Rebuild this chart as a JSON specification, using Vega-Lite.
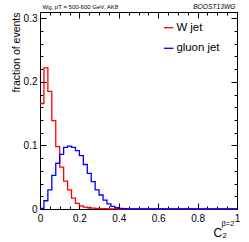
{
  "$schema": "https://vega.github.io/schema/vega-lite/v6.json",
  "width": 197,
  "height": 197,
  "autosize": {"type": "none"},
  "padding": {"left": 40, "top": 12, "right": 12, "bottom": 33},
  "background": "white",
  "config": {
    "view": {"stroke": null},
    "font": "Liberation Sans",
    "axis": {
      "grid": false, "domainColor": "black", "domainWidth": 1, "tickColor": "black", "tickWidth": 1,
      "labelColor": "black", "titleColor": "black", "labelFont": "Liberation Sans", "titleFont": "Liberation Sans",
      "titleFontWeight": "normal", "labelFlush": false, "labelOverlap": false, "labelBound": false
    }
  },
  "datasets": {
    "h": [
      {"jet": "W jet", "x": 0, "f": 0.166}, {"jet": "W jet", "x": 0.02, "f": 0.222}, {"jet": "W jet", "x": 0.04, "f": 0.185},
      {"jet": "W jet", "x": 0.06, "f": 0.139}, {"jet": "W jet", "x": 0.08, "f": 0.098}, {"jet": "W jet", "x": 0.1, "f": 0.066},
      {"jet": "W jet", "x": 0.12, "f": 0.044}, {"jet": "W jet", "x": 0.14, "f": 0.03}, {"jet": "W jet", "x": 0.16, "f": 0.017},
      {"jet": "W jet", "x": 0.18, "f": 0.009}, {"jet": "W jet", "x": 0.2, "f": 0.005}, {"jet": "W jet", "x": 0.22, "f": 0.003},
      {"jet": "W jet", "x": 0.24, "f": 0.002}, {"jet": "W jet", "x": 0.26, "f": 0.0015}, {"jet": "W jet", "x": 0.28, "f": 0.001},
      {"jet": "W jet", "x": 0.3, "f": 0.0007}, {"jet": "W jet", "x": 0.32, "f": 0.0005}, {"jet": "W jet", "x": 0.34, "f": 0.0003},
      {"jet": "W jet", "x": 0.36, "f": 0.0002}, {"jet": "W jet", "x": 0.38, "f": 0.0001}, {"jet": "W jet", "x": 0.4, "f": 0},
      {"jet": "W jet", "x": 0.42, "f": 0}, {"jet": "W jet", "x": 0.44, "f": 0}, {"jet": "W jet", "x": 0.46, "f": 0},
      {"jet": "W jet", "x": 0.48, "f": 0}, {"jet": "W jet", "x": 0.5, "f": 0}, {"jet": "W jet", "x": 0.52, "f": 0},
      {"jet": "W jet", "x": 0.54, "f": 0}, {"jet": "W jet", "x": 0.56, "f": 0}, {"jet": "W jet", "x": 0.58, "f": 0},
      {"jet": "W jet", "x": 0.6, "f": 0}, {"jet": "W jet", "x": 0.62, "f": 0}, {"jet": "W jet", "x": 0.64, "f": 0},
      {"jet": "W jet", "x": 0.66, "f": 0}, {"jet": "W jet", "x": 0.68, "f": 0}, {"jet": "W jet", "x": 0.7, "f": 0},
      {"jet": "W jet", "x": 0.72, "f": 0}, {"jet": "W jet", "x": 0.74, "f": 0}, {"jet": "W jet", "x": 0.76, "f": 0},
      {"jet": "W jet", "x": 0.78, "f": 0}, {"jet": "W jet", "x": 0.8, "f": 0}, {"jet": "W jet", "x": 0.82, "f": 0},
      {"jet": "W jet", "x": 0.84, "f": 0}, {"jet": "W jet", "x": 0.86, "f": 0}, {"jet": "W jet", "x": 0.88, "f": 0},
      {"jet": "W jet", "x": 0.9, "f": 0}, {"jet": "W jet", "x": 0.92, "f": 0}, {"jet": "W jet", "x": 0.94, "f": 0},
      {"jet": "W jet", "x": 0.96, "f": 0}, {"jet": "W jet", "x": 0.98, "f": 0}, {"jet": "W jet", "x": 1, "f": 0},
      {"jet": "gluon jet", "x": 0, "f": 0.001}, {"jet": "gluon jet", "x": 0.02, "f": 0.013}, {"jet": "gluon jet", "x": 0.04, "f": 0.03},
      {"jet": "gluon jet", "x": 0.06, "f": 0.053}, {"jet": "gluon jet", "x": 0.08, "f": 0.072}, {"jet": "gluon jet", "x": 0.1, "f": 0.086},
      {"jet": "gluon jet", "x": 0.12, "f": 0.097}, {"jet": "gluon jet", "x": 0.14, "f": 0.099}, {"jet": "gluon jet", "x": 0.16, "f": 0.097},
      {"jet": "gluon jet", "x": 0.18, "f": 0.092}, {"jet": "gluon jet", "x": 0.2, "f": 0.084}, {"jet": "gluon jet", "x": 0.22, "f": 0.07},
      {"jet": "gluon jet", "x": 0.24, "f": 0.056}, {"jet": "gluon jet", "x": 0.26, "f": 0.043}, {"jet": "gluon jet", "x": 0.28, "f": 0.03},
      {"jet": "gluon jet", "x": 0.3, "f": 0.022}, {"jet": "gluon jet", "x": 0.32, "f": 0.014}, {"jet": "gluon jet", "x": 0.34, "f": 0.008},
      {"jet": "gluon jet", "x": 0.36, "f": 0.004}, {"jet": "gluon jet", "x": 0.38, "f": 0.002}, {"jet": "gluon jet", "x": 0.4, "f": 0.001},
      {"jet": "gluon jet", "x": 0.42, "f": 0.0005}, {"jet": "gluon jet", "x": 0.44, "f": 0}, {"jet": "gluon jet", "x": 0.46, "f": 0},
      {"jet": "gluon jet", "x": 0.48, "f": 0}, {"jet": "gluon jet", "x": 0.5, "f": 0}, {"jet": "gluon jet", "x": 0.52, "f": 0},
      {"jet": "gluon jet", "x": 0.54, "f": 0}, {"jet": "gluon jet", "x": 0.56, "f": 0}, {"jet": "gluon jet", "x": 0.58, "f": 0},
      {"jet": "gluon jet", "x": 0.6, "f": 0}, {"jet": "gluon jet", "x": 0.62, "f": 0}, {"jet": "gluon jet", "x": 0.64, "f": 0},
      {"jet": "gluon jet", "x": 0.66, "f": 0}, {"jet": "gluon jet", "x": 0.68, "f": 0}, {"jet": "gluon jet", "x": 0.7, "f": 0},
      {"jet": "gluon jet", "x": 0.72, "f": 0}, {"jet": "gluon jet", "x": 0.74, "f": 0}, {"jet": "gluon jet", "x": 0.76, "f": 0},
      {"jet": "gluon jet", "x": 0.78, "f": 0}, {"jet": "gluon jet", "x": 0.8, "f": 0}, {"jet": "gluon jet", "x": 0.82, "f": 0},
      {"jet": "gluon jet", "x": 0.84, "f": 0}, {"jet": "gluon jet", "x": 0.86, "f": 0}, {"jet": "gluon jet", "x": 0.88, "f": 0},
      {"jet": "gluon jet", "x": 0.9, "f": 0}, {"jet": "gluon jet", "x": 0.92, "f": 0}, {"jet": "gluon jet", "x": 0.94, "f": 0},
      {"jet": "gluon jet", "x": 0.96, "f": 0}, {"jet": "gluon jet", "x": 0.98, "f": 0}, {"jet": "gluon jet", "x": 1, "f": 0}
    ]
  },
  "data": {"name": "h"},
  "layer": [
    {
      "transform": [{"filter": "datum.jet == 'W jet'"}],
      "mark": {"type": "line", "interpolate": "step-after", "strokeWidth": 1.3},
      "encoding": {
        "x": {
          "field": "x", "type": "quantitative",
          "scale": {"domain": [0, 1], "nice": false, "zero": false},
          "axis": {
            "orient": "bottom",
            "values": [0, 0.05, 0.1, 0.15, 0.2, 0.25, 0.3, 0.35, 0.4, 0.45, 0.5, 0.55, 0.6, 0.65, 0.7, 0.75, 0.8, 0.85, 0.9, 0.95, 1],
            "tickSize": {"condition": {"test": "abs(datum.value*5 - round(datum.value*5)) < 1e-6", "value": -6}, "value": -3},
            "labelExpr": "abs(datum.value*5 - round(datum.value*5)) < 1e-6 ? format(datum.value, '~g') : ''",
            "labelFontSize": 10, "labelPadding": 10,
            "title": "C₂", "titleFontSize": 12, "titleX": 173, "titleY": 27.5,
            "titleAlign": "left", "titleBaseline": "alphabetic", "titleAngle": 0
          }
        },
        "y": {
          "field": "f", "type": "quantitative",
          "scale": {"domain": [0, 0.31], "nice": false, "zero": false},
          "axis": {
            "orient": "left",
            "values": [0, 0.02, 0.04, 0.06, 0.08, 0.1, 0.12, 0.14, 0.16, 0.18, 0.2, 0.22, 0.24, 0.26, 0.28, 0.3],
            "tickSize": {"condition": {"test": "abs(datum.value*10 - round(datum.value*10)) < 1e-6", "value": -6}, "value": -3},
            "labelExpr": "abs(datum.value*10 - round(datum.value*10)) < 1e-6 ? format(datum.value, '~g') : ''",
            "labelFontSize": 10, "labelPadding": 9,
            "title": "fraction of events", "titleFontSize": 10.5, "titleX": -21, "titleY": 0,
            "titleAngle": 270, "titleAlign": "right", "titleBaseline": "alphabetic"
          }
        },
        "color": {
          "field": "jet", "type": "nominal",
          "scale": {"domain": ["W jet", "gluon jet"], "range": ["#ff0000", "#0000ff"]},
          "legend": {
            "orient": "none", "legendX": 123, "legendY": 10, "title": null, "padding": 0,
            "symbolType": "stroke", "symbolStrokeWidth": 1.3, "symbolSize": 90,
            "labelFontSize": 11.4, "labelFont": "Liberation Sans", "labelColor": "black",
            "labelOffset": 2, "rowPadding": 7.6
          }
        }
      }
    },
    {
      "transform": [{"filter": "datum.jet == 'gluon jet'"}],
      "mark": {"type": "line", "interpolate": "step-after", "strokeWidth": 1.3},
      "encoding": {
        "x": {
          "field": "x", "type": "quantitative",
          "scale": {"domain": [0, 1], "nice": false, "zero": false},
          "axis": {
            "orient": "top",
            "values": [0, 0.05, 0.1, 0.15, 0.2, 0.25, 0.3, 0.35, 0.4, 0.45, 0.5, 0.55, 0.6, 0.65, 0.7, 0.75, 0.8, 0.85, 0.9, 0.95, 1],
            "tickSize": {"condition": {"test": "abs(datum.value*5 - round(datum.value*5)) < 1e-6", "value": -6}, "value": -3},
            "labelExpr": "datum.value == 0 ? 'Wg, pT = 500-600 GeV, AK8' : (datum.value == 1 ? 'BOOST13WG' : '')",
            "labelAlign": {"condition": {"test": "datum.value == 0", "value": "left"}, "value": "right"},
            "labelFontStyle": {"condition": {"test": "datum.value == 1", "value": "italic"}, "value": "normal"},
            "labelFontSize": {"condition": {"test": "datum.value == 1", "value": 6.7}, "value": 6},
            "labelOffset": {"condition": {"test": "datum.value == 0", "value": 2}, "value": -2},
            "labelBaseline": "alphabetic", "labelPadding": 9.7, "labelAngle": 0,
            "title": null
          }
        },
        "y": {
          "field": "f", "type": "quantitative",
          "scale": {"domain": [0, 0.31], "nice": false, "zero": false},
          "axis": {
            "orient": "right",
            "values": [0, 0.02, 0.04, 0.06, 0.08, 0.1, 0.12, 0.14, 0.16, 0.18, 0.2, 0.22, 0.24, 0.26, 0.28, 0.3],
            "tickSize": {"condition": {"test": "abs(datum.value*10 - round(datum.value*10)) < 1e-6", "value": -6}, "value": -3},
            "labels": false,
            "title": "β=2", "titleFontSize": 7.5, "titleX": -16, "titleY": 213,
            "titleAngle": 0, "titleAlign": "left", "titleBaseline": "alphabetic"
          }
        },
        "color": {"field": "jet", "type": "nominal"}
      }
    }
  ],
  "resolve": {"axis": {"x": "independent", "y": "independent"}}
}
